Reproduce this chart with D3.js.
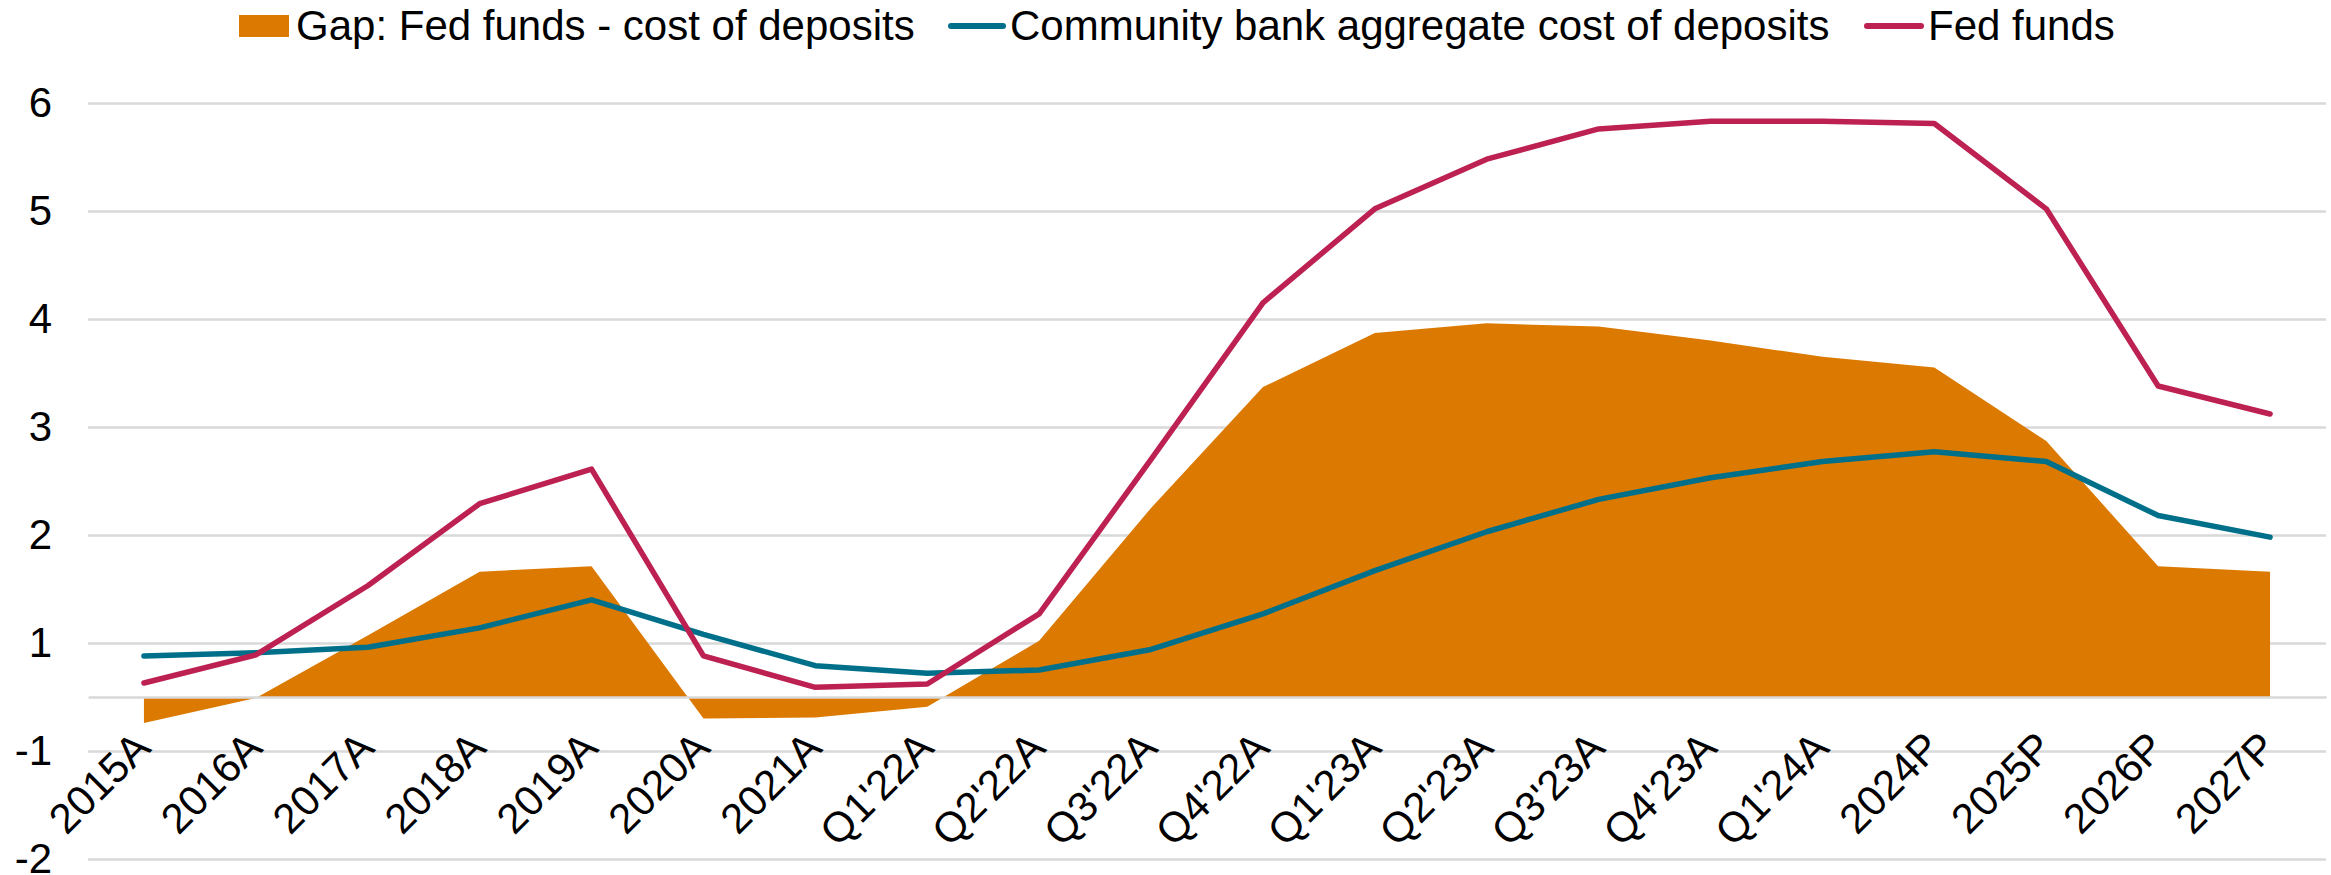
<!DOCTYPE html>
<html>
<head>
<meta charset="utf-8">
<script src="https://cdn.jsdelivr.net/npm/d3@7"></script>
<style>
  html, body { margin: 0; padding: 0; background: #ffffff; }
  svg { display: block; font-family: "Liberation Sans", Arial, Helvetica, sans-serif; }
</style>
</head>
<body>
<svg id="chart" width="2331" height="875"></svg>
<script>
// Periods on the category axis
const categories = ["2015A", "2016A", "2017A", "2018A", "2019A", "2020A", "2021A",
  "Q1'22A", "Q2'22A", "Q3'22A", "Q4'22A", "Q1'23A", "Q2'23A", "Q3'23A", "Q4'23A",
  "Q1'24A", "2024P", "2025P", "2026P", "2027P"];

// Rates, in percent
const fedFunds = [0.13, 0.39, 1.03, 1.79, 2.11, 0.38, 0.09, 0.12, 0.77, 2.20,
  3.65, 4.52, 4.98, 5.26, 5.33, 5.33, 5.31, 4.52, 2.88, 2.62];
const costOfDeposits = [0.38, 0.41, 0.46, 0.64, 0.90, 0.58, 0.29, 0.22, 0.25, 0.44,
  0.77, 1.17, 1.53, 1.83, 2.03, 2.18, 2.27, 2.18, 1.68, 1.48];
const gapValues = [-0.24, -0.01, 0.57, 1.16, 1.21, -0.20, -0.19, -0.09, 0.52, 1.75,
  2.87, 3.37, 3.46, 3.43, 3.30, 3.15, 3.05, 2.37, 1.21, 1.16];

// Value axis: gridlines every point, starting half a point below zero
const valueTicks = [-1.5, -0.5, 0.5, 1.5, 2.5, 3.5, 4.5, 5.5];

const seriesNames = ["Gap: Fed funds - cost of deposits",
  "Community bank aggregate cost of deposits", "Fed funds"];
const colors = { gap: "#db7900", deposits: "#00708a", fed: "#bd2152", grid: "#d9d9d9" };

const svg = d3.select("#chart");
const plot = { left: 88, right: 2326, top: 103, bottom: 859 };

const x = d3.scalePoint().domain(categories).range([plot.left, plot.right]).padding(0.5);
const y = d3.scaleLinear().domain([-1.5, 5.5]).range([plot.bottom, plot.top]);

// Labels carry no decimals; halves round away from zero
const wholeNumber = v => String(Math.sign(v) * Math.round(Math.abs(v)));

// Gridlines and value labels
const yAxis = svg.append("g")
  .attr("transform", `translate(${plot.left},0)`)
  .call(d3.axisLeft(y).tickValues(valueTicks).tickFormat(wholeNumber)
    .tickSize(-(plot.right - plot.left)).tickPadding(36));
yAxis.select(".domain").remove();
yAxis.selectAll(".tick line").attr("stroke", colors.grid).attr("stroke-width", 2.6);
yAxis.selectAll(".tick text")
  .attr("fill", "#000").style("font-size", "42px")
  .style("font-family", "'Liberation Sans', Arial, sans-serif");

const rows = categories.map((c, i) => ({
  c, gap: gapValues[i], dep: costOfDeposits[i], fed: fedFunds[i]
}));

// Gap area, filled from the zero line
svg.append("path")
  .datum(rows)
  .attr("fill", colors.gap)
  .attr("d", d3.area().x(d => x(d.c)).y0(y(0)).y1(d => y(d.gap)));

// Category axis at zero, labels slanted
const xAxis = svg.append("g")
  .attr("transform", `translate(0,${y(0)})`)
  .call(d3.axisBottom(x).tickSize(0).tickSizeOuter(0));
xAxis.select(".domain").attr("stroke", colors.grid).attr("stroke-width", 2.6);
xAxis.selectAll(".tick text")
  .attr("x", 0).attr("y", 0).attr("dy", 0)
  .attr("text-anchor", "end")
  .attr("transform", "translate(8,53) rotate(-45)")
  .attr("fill", "#000").style("font-size", "42px")
  .style("font-family", "'Liberation Sans', Arial, sans-serif");

// Rate lines
const line = key => d3.line().x(d => x(d.c)).y(d => y(d[key]));
svg.append("path").datum(rows)
  .attr("fill", "none").attr("stroke", colors.deposits).attr("stroke-width", 5.5)
  .attr("stroke-linejoin", "round").attr("stroke-linecap", "round")
  .attr("d", line("dep"));
svg.append("path").datum(rows)
  .attr("fill", "none").attr("stroke", colors.fed).attr("stroke-width", 5.5)
  .attr("stroke-linejoin", "round").attr("stroke-linecap", "round")
  .attr("d", line("fed"));

// Legend
const legend = svg.append("g").style("font-size", "42px").attr("fill", "#000");
const legendY = 26;
legend.append("rect").attr("x", 239).attr("y", 15).attr("width", 50).attr("height", 22)
  .attr("fill", colors.gap);
legend.append("text").attr("x", 296).attr("y", 40).text(seriesNames[0]);
legend.append("line").attr("x1", 951).attr("x2", 1003).attr("y1", legendY).attr("y2", legendY)
  .attr("stroke", colors.deposits).attr("stroke-width", 6).attr("stroke-linecap", "round");
legend.append("text").attr("x", 1010).attr("y", 40).text(seriesNames[1]);
legend.append("line").attr("x1", 1867).attr("x2", 1921).attr("y1", legendY).attr("y2", legendY)
  .attr("stroke", colors.fed).attr("stroke-width", 6).attr("stroke-linecap", "round");
legend.append("text").attr("x", 1928).attr("y", 40).text(seriesNames[2]);
</script>
</body>
</html>
